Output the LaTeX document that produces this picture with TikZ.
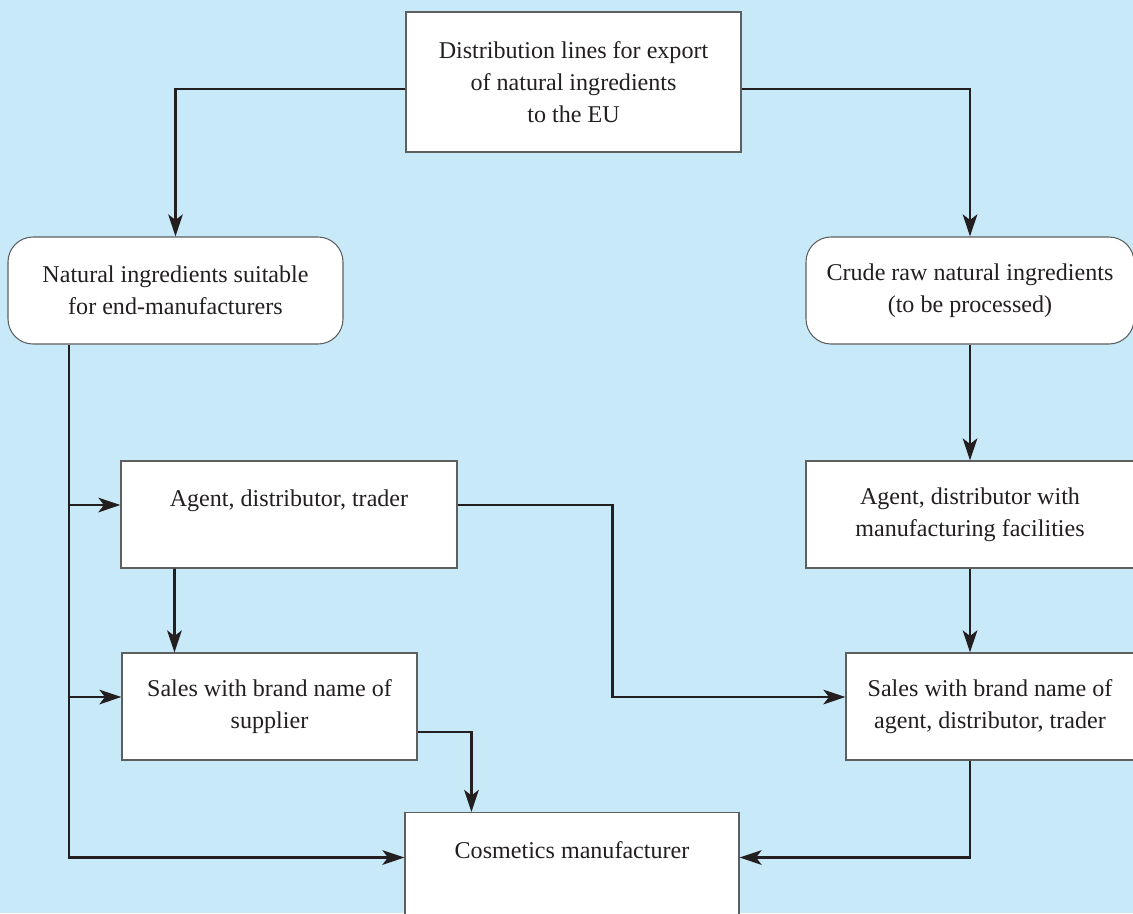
\documentclass[tikz,border=0pt]{standalone}
\usepackage{fontspec}
\setmainfont{Liberation Serif}
\usepackage{xcolor}
\usepackage{tikz}
\usetikzlibrary{arrows.meta, positioning}

\definecolor{bgblue}{RGB}{200,233,248}
\definecolor{inkdark}{RGB}{35,31,32}
\definecolor{edgegray}{RGB}{95,95,95}

\begin{document}
\begin{tikzpicture}[
    box/.style={rectangle, draw=edgegray, line width=0.6pt, fill=white, minimum height=2.14cm, align=center, inner sep=0pt, text=inkdark, font=\fontsize{13.7}{18.2}\selectfont},
    round_box/.style={box, rounded corners=0.5cm},
    arrow/.style={-{Stealth[length=4.4mm, width=2.9mm, inset=1.1mm]}, line width=1.6pt, draw=inkdark}
]
% background and frame
\fill[bgblue] (0,0) rectangle (22.66,-18.26);
\useasboundingbox (0,0) rectangle (22.66,-18.26);
\clip (0,0) rectangle (22.66,-18.26);

% nodes
\node[box, minimum width=6.7cm, minimum height=2.8cm] (export) at (11.47,-1.64) {Distribution lines for export\\of natural ingredients\\to the EU};
\node[round_box, minimum width=6.7cm] (natural) at (3.51,-5.81) {Natural ingredients suitable\\for end-manufacturers};
\node[round_box, minimum width=6.56cm] (crude) at (19.4,-5.81) {Crude raw natural ingredients\\(to be processed)};
\node[box, minimum width=6.72cm] (agent_l) at (5.78,-10.29) {Agent, distributor, trader\\\mbox{}};
\node[box, minimum width=6.56cm] (agent_r) at (19.4,-10.29) {Agent, distributor with\\manufacturing facilities};
\node[box, minimum width=5.9cm] (sales_l) at (5.39,-14.13) {Sales with brand name of\\supplier};
\node[box, minimum width=5.76cm] (sales_r) at (19.8,-14.13) {Sales with brand name of\\agent, distributor, trader};
\node[box, minimum width=6.68cm] (cosm) at (11.44,-17.32) {Cosmetics manufacturer\\\mbox{}};

\coordinate (trunk) at (1.38,0);

% connectors
\draw[arrow] ([yshift=-0.14cm]export.west) -| (natural.north);
\draw[arrow] ([yshift=-0.14cm]export.east) -| (crude.north);
\draw[arrow] (natural.south -| trunk) |- ([yshift=0.17cm]cosm.west);
\draw[arrow] ([yshift=0.19cm]agent_l.west -| trunk) -- ([yshift=0.19cm]agent_l.west);
\draw[arrow] ([yshift=0.19cm]sales_l.west -| trunk) -- ([yshift=0.19cm]sales_l.west);
\draw[arrow] ([xshift=1.08cm]agent_l.south west) -- ([xshift=1.06cm]sales_l.north west);
\draw[arrow] ([yshift=0.19cm]agent_l.east) -- ++(3.1,0) |- ([yshift=0.19cm]sales_r.west);
\draw[arrow] ([yshift=-0.51cm]sales_l.east) -| ([xshift=1.34cm]cosm.north west);
\draw[arrow] (crude.south) -- (agent_r.north);
\draw[arrow] (agent_r.south) -- (agent_r.south |- sales_r.north);
\draw[arrow] (sales_r.south -| agent_r.south) |- ([yshift=0.17cm]cosm.east);
\end{tikzpicture}
\end{document}
